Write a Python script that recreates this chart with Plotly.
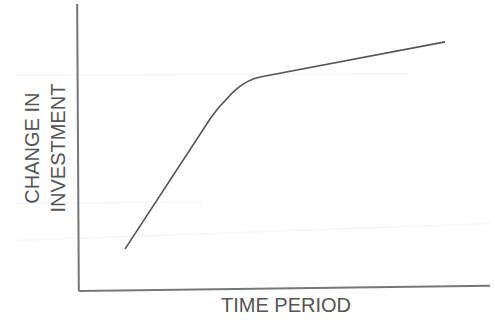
import plotly.graph_objects as go

# Investment response over time: steep rise, a rounded bend, then a gentle slope
time_period = [11.4, 30.3, 32.2, 34.0, 35.8, 37.5, 39.2, 40.9, 42.5, 44.2, 89.1]
change_in_investment = [14.0, 56.1, 60.0, 63.4, 66.4, 68.9, 71.0, 72.6, 73.7, 74.4, 86.7]

x_title = "TIME PERIOD"
y_title = "CHANGE IN<br>INVESTMENT"

INK = "#555555"
AXIS_INK = "#777777"
FONT = "Liberation Sans, Arial, Helvetica, sans-serif"

fig = go.Figure()
fig.add_trace(go.Scatter(
    x=time_period,
    y=change_in_investment,
    mode="lines",
    line=dict(color=INK, width=1.6),
    hoverinfo="skip",
))

# Faint streaks across the page from the printed original
for x0, y0, x1, y1 in [(-0.15, 0.75, 0.80, 0.755),
                       (-0.15, 0.30, 0.30, 0.305),
                       (-0.15, 0.17, 1.0, 0.23)]:
    fig.add_shape(type="line", xref="paper", yref="paper",
                  x0=x0, y0=y0, x1=x1, y1=y1, layer="below",
                  line=dict(color="#f6f6f6", width=1.5))

# Axes drawn as plain strokes along the left and bottom edges
fig.add_shape(type="line", xref="paper", yref="paper",
              x0=-0.002, y0=1.0, x1=0.002, y1=-0.007,
              line=dict(color=AXIS_INK, width=2))
fig.add_shape(type="line", xref="paper", yref="paper",
              x0=0.002, y0=-0.007, x1=1.0, y1=0.011,
              line=dict(color=AXIS_INK, width=2))

fig.add_annotation(text=x_title, xref="paper", yref="paper",
                   x=0.505, y=-0.055, xanchor="center", yanchor="middle",
                   showarrow=False, font=dict(family=FONT, size=20, color=INK))
fig.add_annotation(text=y_title, xref="paper", yref="paper",
                   x=-0.081, y=0.495, xanchor="center", yanchor="middle",
                   textangle=-90, showarrow=False,
                   font=dict(family=FONT, size=20, color=INK))

fig.update_xaxes(range=[0, 100], visible=False, fixedrange=True)
fig.update_yaxes(range=[0, 100], visible=False, fixedrange=True)

fig.update_layout(
    width=495, height=320,
    margin=dict(l=78, r=5, t=4, b=31),
    paper_bgcolor="white", plot_bgcolor="white",
    showlegend=False,
)

fig.write_html("out.html", config={"displayModeBar": False})
